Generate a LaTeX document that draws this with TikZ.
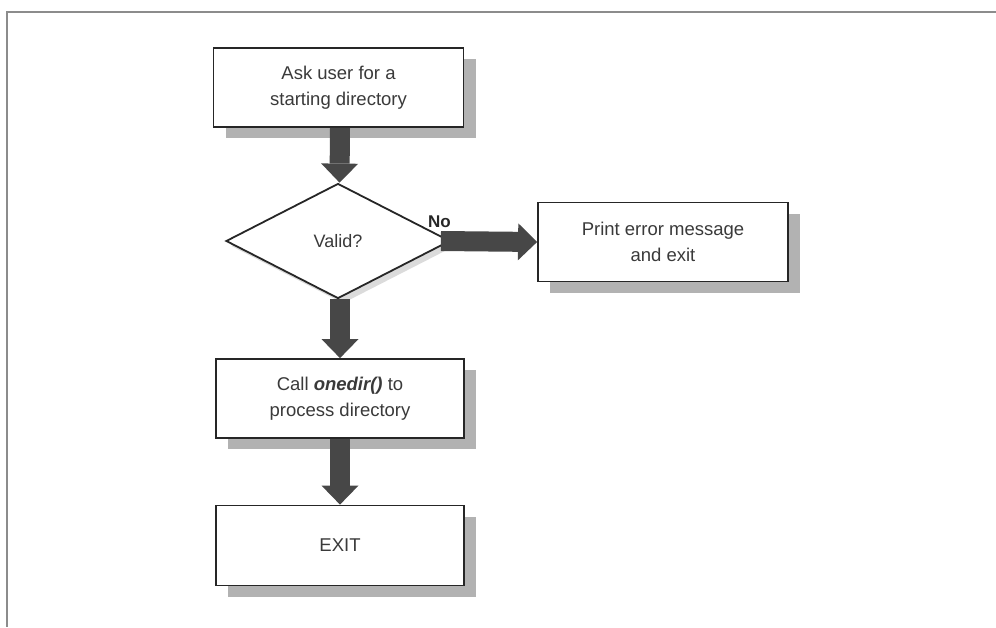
\documentclass[tikz,border=0pt]{standalone}
\usepackage{fontspec}
\setmainfont{Liberation Sans}
\usetikzlibrary{arrows.meta,shapes.geometric,shadows}

\definecolor{inkgray}{HTML}{3A3A3A}
\definecolor{framegray}{HTML}{8C8C8C}
\definecolor{shaftgray}{HTML}{474747}

\tikzset{
  stepbox/.style={draw=black!85, line width=1.8pt, fill=white,
    minimum width=250pt, minimum height=79pt, inner sep=0pt,
    align=center, text=inkgray, font=\fontsize{18.5}{25.5}\selectfont,
    drop shadow={shadow xshift=12pt, shadow yshift=-11pt,
      fill=black!55, opacity=0.55}},
  decision/.style={diamond, draw=black!85, line width=1.8pt, fill=white,
    minimum width=224pt, minimum height=115pt, inner sep=0pt,
    text=inkgray, font=\fontsize{18}{22}\selectfont,
    drop shadow={shadow xshift=5pt, shadow yshift=-5pt,
      fill=black!40, opacity=0.35}},
  flow/.style={draw=shaftgray, line width=20pt,
    -{Triangle[length=19pt, width=37pt, line width=0pt, fill=shaftgray]}},
  branchlabel/.style={font=\bfseries\fontsize{17}{20}\selectfont, text=black!85,
    inner sep=0pt},
  framing/.style={draw=framegray, line width=2pt}
}

\begin{document}
\begin{tikzpicture}[x=1pt, y=-1pt]
  \useasboundingbox (0,0) rectangle (996,627);

  % page frame (top and left rules)
  \coordinate (frameTop) at (996,12);
  \coordinate (frameCorner) at (7,12);
  \coordinate (frameBottom) at (7,627);
  \draw[framing] (frameTop) -- (frameCorner) -- (frameBottom);

  % flowchart nodes
  \node[stepbox] (ask)   at (338.5,87.5) {Ask user for a\\starting directory};
  \node[decision] (valid) at (338,241) {Valid?};
  \node[stepbox] (print) at (663,242) {Print error message\\and exit};
  \node[stepbox, minimum width=248pt] (call) at (340,398.5)
    {Call \textbf{\textit{onedir()}} to\\process directory};
  \node[stepbox, minimum width=248pt, minimum height=80pt] (exit) at (340,545.5) {EXIT};

  % connectors
  \draw[flow] ([xshift=1.5pt]ask.south) -- ([xshift=1.5pt]valid.north);
  \draw[flow] ([xshift=-10pt]valid.east) -- (print.west);
  \draw[flow] ([xshift=2pt]valid.south) -- ([xshift=0pt]call.north);
  \draw[flow] (call.south) -- (exit.north);

  % branch label
  \node[branchlabel, anchor=south west] (nolabel) at (428,228) {No};
\end{tikzpicture}
\end{document}
